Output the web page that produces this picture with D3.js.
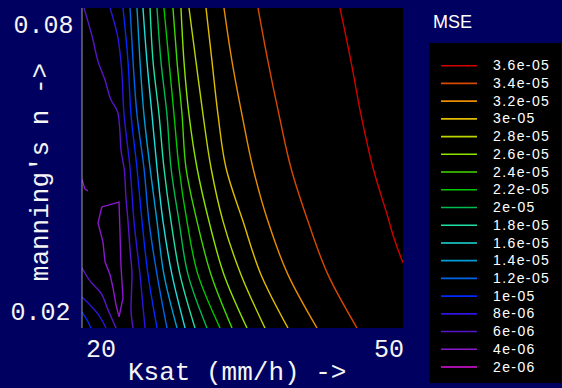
<!DOCTYPE html>
<html>
<head>
<meta charset="utf-8">
<script src="https://cdn.jsdelivr.net/npm/d3@7"></script>
<style>
  html, body { margin: 0; padding: 0; background: #000060; }
  svg { display: block; }
</style>
</head>
<body>
<svg id="chart" width="562" height="388"></svg>
<script>
// Axis extents and the labels printed at their ends
const ksatDomain = [20, 50];
const nDomain = [0.02, 0.08];
const xTickValues = [20, 50];
const xTickLabels = ["20", "50"];
const yTickValues = [0.08, 0.02];
const yTickLabels = ["0.08", "0.02"];

// Contour levels of the MSE surface (legend order, top to bottom)
const levels = [3.6e-5, 3.4e-5, 3.2e-5, 3e-5, 2.8e-5, 2.6e-5, 2.4e-5, 2.2e-5, 2e-5,
                1.8e-5, 1.6e-5, 1.4e-5, 1.2e-5, 1e-5, 8e-6, 6e-6, 4e-6, 2e-6];
const levelLabels = ["3.6e-05", "3.4e-05", "3.2e-05", "3e-05", "2.8e-05", "2.6e-05",
                     "2.4e-05", "2.2e-05", "2e-05", "1.8e-05", "1.6e-05", "1.4e-05",
                     "1.2e-05", "1e-05", "8e-06", "6e-06", "4e-06", "2e-06"];
const levelColors = ["#d00000", "#d84800", "#e88c00", "#e0bc00", "#bcd400", "#8ce400",
                     "#40d800", "#00c800", "#00bc50", "#20e0a8", "#20dcdc", "#009cd8",
                     "#0064e8", "#0028ff", "#2c14e0", "#5814c8", "#8a18cc", "#e014e0"];

// Manning's n rows at which the isolines below are sampled
const nRows = [0.08, 0.07, 0.06, 0.05, 0.04, 0.03, 0.02];

// Ksat (mm/h) where each isoline crosses the rows in nRows
const rowLevels = [1e-5, 1.2e-5, 1.4e-5, 1.6e-5, 1.8e-5, 2e-5, 2.2e-5,
                   2.4e-5, 2.6e-5, 2.8e-5, 3e-5, 3.2e-5, 3.4e-5];
const rowKsat = [
  [23.83, 24.30, 24.58, 25.14, 25.61, 26.17, 27.01],
  [24.49, 24.77, 25.14, 25.79, 26.26, 27.01, 27.94],
  [25.14, 25.42, 25.79, 26.36, 27.01, 27.66, 28.88],
  [25.70, 26.07, 26.54, 27.01, 27.57, 28.41, 29.63],
  [26.36, 26.64, 27.20, 27.66, 28.32, 29.16, 30.56],
  [27.01, 27.38, 27.94, 28.32, 29.07, 29.91, 31.68],
  [27.66, 28.13, 28.60, 29.07, 29.81, 30.84, 32.90],
  [28.50, 28.88, 29.35, 29.72, 30.75, 32.06, 34.02],
  [29.25, 29.53, 30.00, 30.75, 31.87, 33.27, 35.42],
  [30.00, 30.65, 31.31, 32.06, 33.18, 34.86, 37.10],
  [31.59, 32.15, 32.71, 33.46, 35.05, 36.73, 39.25],
  [33.27, 34.02, 34.95, 35.98, 37.38, 39.25, 41.96],
  [36.45, 37.38, 38.41, 39.53, 41.12, 42.99, 45.70]
];

// Isolines traced as [Ksat, n] vertices
const iso6eMain = [[20.19, 0.08], [21.03, 0.074], [21.50, 0.07], [22.15, 0.0665],
                   [22.71, 0.0628], [23.36, 0.0603], [23.55, 0.0566], [23.64, 0.0534],
                   [23.93, 0.05], [24.11, 0.0444], [24.30, 0.04], [24.49, 0.0346],
                   [24.67, 0.03], [24.58, 0.0234], [24.77, 0.02]];
const iso8eMain = [[22.62, 0.08], [23.30, 0.075], [23.64, 0.07], [23.93, 0.06],
                   [24.49, 0.05], [24.86, 0.04], [25.42, 0.03], [25.89, 0.02]];
const iso36e = [[44.11, 0.08], [45.14, 0.07], [46.07, 0.06], [47.20, 0.05],
                [48.70, 0.04], [49.07, 0.0374], [50, 0.0322]];
const iso6eCorner = [[20, 0.0313], [20.84, 0.0286], [21.68, 0.0268], [22.43, 0.0234], [23.18, 0.02]];
const iso8eCorner = [[20, 0.0258], [20.75, 0.0243], [21.50, 0.0226], [22.24, 0.02]];
const iso1eCorner = [[20, 0.023], [20.47, 0.0215], [20.84, 0.02]];
const iso4eIsland = [[21.87, 0.0427], [23.46, 0.0436], [23.55, 0.038], [23.64, 0.0318],
                     [23.83, 0.0256], [23.64, 0.0238], [23.46, 0.0221], [23.18, 0.0243],
                     [22.90, 0.0275], [22.62, 0.03], [22.15, 0.0324], [21.96, 0.0361],
                     [21.50, 0.0397], [21.78, 0.0421]];
const iso4eEdge = [[20, 0.0479], [20.19, 0.0466], [20.28, 0.0461], [20.56, 0.0457]];

const svg = d3.select("#chart");
const plot = { left: 82, right: 403, top: 8, bottom: 328 };

const x = d3.scaleLinear().domain(ksatDomain).range([plot.left, plot.right]);
const y = d3.scaleLinear().domain(nDomain).range([plot.bottom, plot.top]);
const color = d3.scaleOrdinal(levels, levelColors);

// plotting area
svg.append("rect")
  .attr("x", plot.left).attr("y", plot.top)
  .attr("width", plot.right - plot.left).attr("height", plot.bottom - plot.top)
  .attr("fill", "#000000");

svg.append("clipPath").attr("id", "plot-clip")
  .append("rect")
  .attr("x", plot.left).attr("y", plot.top)
  .attr("width", plot.right - plot.left).attr("height", plot.bottom - plot.top);

const isolines = [];
rowLevels.forEach((lv, i) => {
  isolines.push({ level: lv, closed: false, pts: rowKsat[i].map((k, j) => [k, nRows[j]]) });
});
isolines.push({ level: 6e-6, closed: false, pts: iso6eMain });
isolines.push({ level: 8e-6, closed: false, pts: iso8eMain });
isolines.push({ level: 3.6e-5, closed: false, pts: iso36e });
isolines.push({ level: 6e-6, closed: false, pts: iso6eCorner });
isolines.push({ level: 8e-6, closed: false, pts: iso8eCorner });
isolines.push({ level: 1e-5, closed: false, pts: iso1eCorner });
isolines.push({ level: 4e-6, closed: true, pts: iso4eIsland });
isolines.push({ level: 4e-6, closed: false, pts: iso4eEdge });

const openLine = d3.line().x(d => x(d[0])).y(d => y(d[1])).curve(d3.curveMonotoneY);
const closedLine = d3.line().x(d => x(d[0])).y(d => y(d[1])).curve(d3.curveLinearClosed);

svg.append("g").attr("clip-path", "url(#plot-clip)")
  .selectAll("path")
  .data(isolines)
  .join("path")
  .attr("d", d => d.closed ? closedLine(d.pts) : openLine(d.pts))
  .attr("fill", "none")
  .attr("stroke", d => color(d.level))
  .attr("stroke-width", 1.4);

// left axis line
svg.append("line")
  .attr("x1", plot.left).attr("x2", plot.left)
  .attr("y1", plot.top).attr("y2", plot.bottom)
  .attr("stroke", "#a0a0a8").attr("stroke-width", 1);

const monoFont = "'Liberation Mono', 'DejaVu Sans Mono', monospace";

// x end labels
svg.selectAll("text.xtick")
  .data(xTickValues)
  .join("text")
  .attr("class", "xtick")
  .attr("x", (d, i) => i === 0 ? x(d) + 4 : x(d) + 1)
  .attr("y", 357)
  .attr("text-anchor", (d, i) => i === 0 ? "start" : "end")
  .attr("fill", "#f4f4f4")
  .attr("font-family", monoFont)
  .attr("font-size", 25)
  .text((d, i) => xTickLabels[i]);

// y end labels
svg.selectAll("text.ytick")
  .data(yTickValues)
  .join("text")
  .attr("class", "ytick")
  .attr("x", (d, i) => i === 0 ? 13.5 : 10.5)
  .attr("y", (d, i) => i === 0 ? y(d) + 25 : y(d) - 8)
  .attr("fill", "#f4f4f4")
  .attr("font-family", monoFont)
  .attr("font-size", 25)
  .text((d, i) => yTickLabels[i]);

// axis titles
svg.append("text")
  .attr("x", 128).attr("y", 380)
  .attr("fill", "#f4f4f4")
  .attr("font-family", monoFont)
  .attr("font-size", 26)
  .text("Ksat (mm/h) ->");

svg.append("text")
  .attr("transform", "translate(48,172) rotate(-90)")
  .attr("text-anchor", "middle")
  .attr("fill", "#f4f4f4")
  .attr("font-family", monoFont)
  .attr("font-size", 26)
  .text("manning's n ->");

// legend
svg.append("text")
  .attr("x", 433).attr("y", 28)
  .attr("fill", "#ffffff")
  .attr("font-family", "'Liberation Sans', Arial, sans-serif")
  .attr("font-size", 18)
  .text("MSE");

svg.append("rect")
  .attr("x", 429).attr("y", 43)
  .attr("width", 132).attr("height", 340)
  .attr("fill", "#000000");

const legendY = d3.scalePoint().domain(levelLabels).range([65.7, 367]);

const entries = svg.append("g").selectAll("g")
  .data(levels)
  .join("g")
  .attr("transform", (d, i) => `translate(0,${legendY(levelLabels[i])})`);

entries.append("line")
  .attr("x1", 441).attr("x2", 477)
  .attr("stroke", d => color(d))
  .attr("stroke-width", 1.6);

entries.append("text")
  .attr("x", 493).attr("y", 4.6)
  .attr("fill", "#ffffff")
  .attr("font-family", "'Liberation Sans', Arial, sans-serif")
  .attr("font-size", 14)
  .attr("letter-spacing", "1.4px")
  .text((d, i) => levelLabels[i]);
</script>
</body>
</html>
